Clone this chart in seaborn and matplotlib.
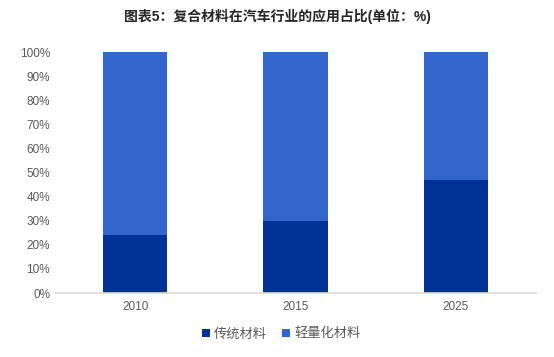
import seaborn as sns
import matplotlib.pyplot as plt
import pandas as pd

# data
years = ["2010", "2015", "2025"]
traditional = [24, 30, 47]
lightweight = [76, 70, 53]

sns.set_theme(style="white")
# Arial-like for numbers, CJK font for Chinese characters
plt.rcParams['font.family'] = ['Liberation Sans', 'Noto Sans CJK SC', 'DejaVu Sans']

df = pd.DataFrame({"year": years, "trad": traditional, "light": lightweight})
df["total"] = df["trad"] + df["light"]

fig = plt.figure(figsize=(5.54, 3.57), dpi=100)
ax = fig.add_axes([0.0993, 0.179, 0.8682, 0.675])

# stacked bars: total drawn first, traditional on top of it
sns.barplot(data=df, x="year", y="total", color="#3366CC", width=0.4,
            saturation=1, ax=ax, label="轻量化材料", linewidth=0)
sns.barplot(data=df, x="year", y="trad", color="#003296", width=0.4,
            saturation=1, ax=ax, label="传统材料", linewidth=0)

ax.set_ylim(0, 100)
ax.set_xlim(-0.5, 2.5)
ax.set_yticks(range(0, 101, 10))
ax.set_yticklabels([f"{v}%" for v in range(0, 101, 10)])
ax.tick_params(axis="both", labelsize=8.5, colors="#595959", length=0)
ax.tick_params(axis="x", pad=6)
ax.set_xlabel("")
ax.set_ylabel("")
for s in ["top", "right", "left"]:
    ax.spines[s].set_visible(False)
ax.spines["bottom"].set_color("#D9D9D9")

fig.text(0.5, 0.955, "图表5：复合材料在汽车行业的应用占比(单位：%)",
         ha="center", va="center", fontsize=10, fontweight="bold", color="#262626")

handles, labels = ax.get_legend_handles_labels()
ax.legend(handles[::-1], labels[::-1], loc="center", bbox_to_anchor=(0.47, -0.17),
          ncol=2, frameon=False, fontsize=9.5, handlelength=0.6, handleheight=0.6,
          handletextpad=0.3, columnspacing=1.2, labelcolor="#595959")

fig.savefig("out.png", dpi=100)
